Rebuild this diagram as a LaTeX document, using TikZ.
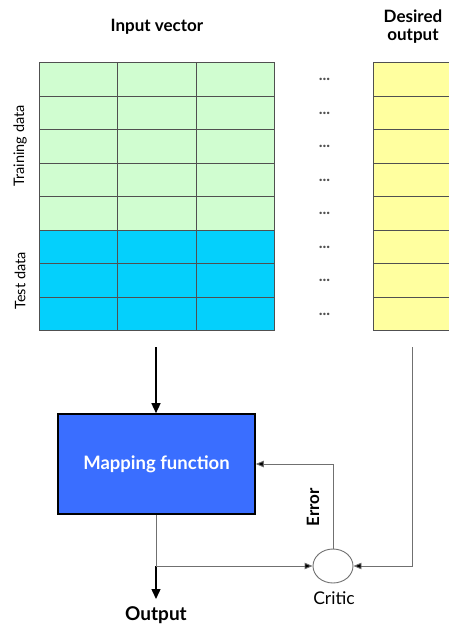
\documentclass[tikz,border=0pt]{standalone}
\usepackage{fontspec}
\setmainfont{Lato}
\usetikzlibrary{arrows.meta,shapes.geometric}
\definecolor{trainc}{HTML}{D0FDD0}
\definecolor{testc}{HTML}{04D0FC}
\definecolor{yelc}{HTML}{FFFF9F}
\definecolor{mapc}{HTML}{3A6EFF}
\definecolor{gridc}{HTML}{505050}
\definecolor{linec}{HTML}{707070}
\tikzset{
  cellbox/.style={draw=gridc,line width=0.9pt,minimum width=78.5pt,minimum height=33.5pt,inner sep=0pt,anchor=north west},
  ycell/.style={draw=gridc,line width=0.9pt,minimum width=90pt,minimum height=33.5pt,inner sep=0pt,anchor=north west,fill=yelc},
  dotlbl/.style={font=\bfseries\fontsize{16}{16}\selectfont,text=gridc},
  hdr/.style={font=\bfseries\fontsize{17}{18}\selectfont,align=center},
  sidelbl/.style={font=\fontsize{14.5}{16}\selectfont,rotate=90},
  mainarrow/.style={line width=1.4pt,-{Triangle[length=10pt,width=9pt]}},
  fbarrow/.style={draw=linec,line width=0.9pt,arrows={-{Triangle[length=8pt,width=6.5pt,fill=black]}}},
  fbline/.style={draw=linec,line width=0.9pt}
}
\begin{document}
\begin{tikzpicture}[x=1pt,y=-1pt]
\useasboundingbox (0,0) rectangle (448,625);
% grid
\foreach \r in {1,...,8}{
  \foreach \c in {1,2,3}{
    \pgfmathsetmacro{\xx}{38.5+(\c-1)*78.5}
    \pgfmathsetmacro{\yy}{62+(\r-1)*33.5}
    \ifnum\r<6
      \node[cellbox,fill=trainc] (cell-\r-\c) at (\xx,\yy) {};
    \else
      \node[cellbox,fill=testc] (cell-\r-\c) at (\xx,\yy) {};
    \fi
  }
  \pgfmathsetmacro{\yy}{62+(\r-1)*33.5}
  \node[ycell] (y-\r) at (373,\yy) {};
  \pgfmathsetmacro{\yc}{62+(\r-0.5)*33.5+2}
  \node[dotlbl,anchor=base] (dots-\r) at (324.5,\yc) {...};
}
\node[hdr] (inhdr) at (157,27) {Input vector};
\node[hdr] (outhdr) at (413,27) {Desired\\output};
\node[sidelbl] (trainlbl) at (20,146) {Training data};
\node[sidelbl] (testlbl) at (20,281) {Test data};
% mapping function
\node[draw=black,line width=1.6pt,fill=mapc,minimum width=197pt,minimum height=100pt,inner sep=0pt,
  font=\bfseries\fontsize{18.5}{20}\selectfont,text=white] (map) at (156.5,464) {Mapping function};
\coordinate (gridout) at (156,347);
\draw[mainarrow] (gridout) -- (map.north -| gridout);
% critic
\node[draw=linec,line width=0.9pt,ellipse,minimum width=40pt,minimum height=34pt,inner sep=0pt,fill=white] (critic) at (333,566) {};
\node[font=\fontsize{17.5}{19}\selectfont] (criticlbl) at (334,598) {Critic};
% output
\coordinate (outend) at (156,599);
\coordinate (split) at (156,566);
\draw[fbline] (map.south -| split) -- (split);
\draw[mainarrow] (split) -- (outend);
\node[font=\bfseries\fontsize{19}{20}\selectfont] (outlbl) at (156,615) {Output};
\draw[fbarrow] (split) -- (critic.west);
% desired output to critic
\coordinate (desstart) at (412,347);
\coordinate (descorner) at (412,566);
\draw[fbarrow] (desstart) -- (descorner) -- (critic.east);
% error feedback
\coordinate (errcorner) at (333,464);
\draw[fbarrow] (critic.north) -- (errcorner) -- (map.east |- errcorner);
\node[font=\bfseries\fontsize{17}{19}\selectfont,rotate=90] (errlbl) at (313,507) {Error};
\end{tikzpicture}
\end{document}
